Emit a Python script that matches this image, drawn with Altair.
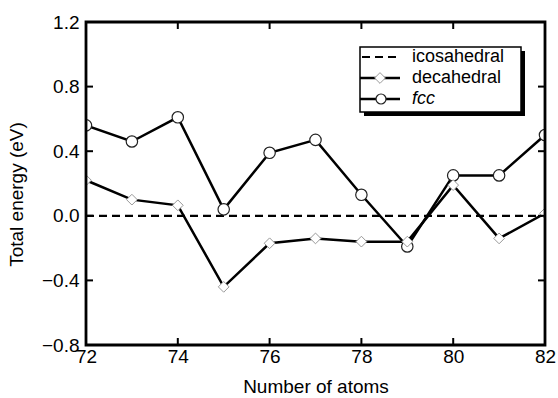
import altair as alt
import pandas as pd

atoms = [72, 73, 74, 75, 76, 77, 78, 79, 80, 81, 82]
icosahedral = [0.0, 0.0, 0.0, 0.0, 0.0, 0.0, 0.0, 0.0, 0.0, 0.0, 0.0]
decahedral = [0.22, 0.10, 0.065, -0.44, -0.17, -0.14, -0.16, -0.16, 0.19, -0.14, 0.015]
fcc = [0.56, 0.46, 0.61, 0.04, 0.39, 0.47, 0.13, -0.19, 0.25, 0.25, 0.50]

x_ticks = [72, 74, 76, 78, 80, 82]
y_ticks = [-0.8, -0.4, 0.0, 0.4, 0.8, 1.2]
x_inner_ticks = [74, 76, 78, 80]
y_inner_ticks = [-0.4, 0.0, 0.4, 0.8]

W, H = 459, 323
FONT = "Liberation Sans"

df = pd.DataFrame({"atoms": atoms, "ico": icosahedral, "dec": decahedral, "fcc": fcc})
xt = pd.DataFrame({"v": x_inner_ticks})
yt = pd.DataFrame({"v": y_inner_ticks})

xs = alt.Scale(domain=[72, 82], nice=False, zero=False)
ys = alt.Scale(domain=[-0.8, 1.2], nice=False, zero=False)

X = alt.X("atoms:Q", scale=xs,
          axis=alt.Axis(values=x_ticks, format="d", title="Number of atoms", tickSize=0,
                        domain=False, grid=False, labelPadding=2, titlePadding=11,
                        labelFlush=False, labelOverlap=False,
                        labelFontSize=19, titleFontSize=19, labelFont=FONT, titleFont=FONT,
                        titleFontWeight="normal", labelColor="black", titleColor="black"))


def Y(field):
    return alt.Y(field, scale=ys,
                 axis=alt.Axis(values=y_ticks, format=".1f", title="Total energy (eV)", tickSize=0,
                               domain=False, grid=False, labelPadding=7, titlePadding=15,
                               labelFlush=False, labelOverlap=False, titleY=172,
                               labelFontSize=19, titleFontSize=19, labelFont=FONT, titleFont=FONT,
                               titleFontWeight="normal", labelColor="black", titleColor="black"))


base = alt.Chart(df)

ico_line = base.mark_line(color="black", strokeWidth=2.2, strokeDash=[8, 5], clip=True).encode(x=X, y=Y("ico:Q"))
dec_line = base.mark_line(color="black", strokeWidth=2.5, clip=True).encode(x=X, y=Y("dec:Q"))
fcc_line = base.mark_line(color="black", strokeWidth=2.5, clip=True).encode(x=X, y=Y("fcc:Q"))
fcc_pts = base.mark_point(shape="circle", size=130, filled=True, fill="white", stroke="#222",
                          strokeWidth=1.2, opacity=1, clip=True).encode(x=X, y=Y("fcc:Q"))
dec_pts = base.mark_point(shape="diamond", size=115, filled=True, fill="white", stroke="#999",
                          strokeWidth=1, opacity=1, clip=True).encode(x=X, y=Y("dec:Q"))

tick_style = dict(color="black", strokeWidth=2)
left_t = alt.Chart(yt).mark_rule(**tick_style).encode(y=alt.Y("v:Q", scale=ys), x=alt.value(0), x2=alt.value(7))
right_t = alt.Chart(yt).mark_rule(**tick_style).encode(y=alt.Y("v:Q", scale=ys), x=alt.value(W), x2=alt.value(W - 7))
top_t = alt.Chart(xt).mark_rule(**tick_style).encode(x=alt.X("v:Q", scale=xs), y=alt.value(0), y2=alt.value(7))
bot_t = alt.Chart(xt).mark_rule(**tick_style).encode(x=alt.X("v:Q", scale=xs), y=alt.value(H), y2=alt.value(H - 7))

one = pd.DataFrame({"a": [0]})
lc = alt.Chart(one)
frame = lc.mark_rect(fill=None, stroke="black", strokeWidth=2.8).encode(
    x=alt.value(0), x2=alt.value(W), y=alt.value(0), y2=alt.value(H))

# legend (drawn by hand, with shadow)
leg_labels = ["icosahedral", "decahedral", "fcc"]
lx0, lx1, ly0, ly1 = 274, 435, 25, 90
shadow = lc.mark_rect(color="black").encode(x=alt.value(lx0 + 4), x2=alt.value(lx1 + 4),
                                           y=alt.value(ly0 + 4), y2=alt.value(ly1 + 4))
box = lc.mark_rect(fill="white", stroke="black", strokeWidth=1.5).encode(
    x=alt.value(lx0), x2=alt.value(lx1), y=alt.value(ly0), y2=alt.value(ly1))
rows = [35, 56, 77]
legend_layers = [shadow, box]
legend_layers.append(lc.mark_rule(color="black", strokeWidth=2.2, strokeDash=[8, 5]).encode(
    x=alt.value(lx0 + 2), x2=alt.value(314), y=alt.value(rows[0])))
legend_layers.append(lc.mark_rule(color="black", strokeWidth=2.5).encode(
    x=alt.value(lx0), x2=alt.value(314), y=alt.value(rows[1])))
legend_layers.append(lc.mark_point(shape="diamond", size=115, filled=True, fill="white", stroke="#999",
                                   strokeWidth=1, opacity=1).encode(x=alt.value(294), y=alt.value(rows[1])))
legend_layers.append(lc.mark_rule(color="black", strokeWidth=2.5).encode(
    x=alt.value(lx0), x2=alt.value(314), y=alt.value(rows[2])))
legend_layers.append(lc.mark_point(shape="circle", size=100, filled=True, fill="white", stroke="#222",
                                   strokeWidth=1.2, opacity=1).encode(x=alt.value(295), y=alt.value(rows[2])))
for i, lab in enumerate(leg_labels):
    legend_layers.append(lc.mark_text(text=lab, align="left", baseline="middle", fontSize=18, font=FONT,
                                      fontStyle="italic" if lab == "fcc" else "normal", color="black").encode(
        x=alt.value(326), y=alt.value(rows[i])))

chart = alt.layer(
    ico_line, dec_line, fcc_line, fcc_pts, dec_pts,
    left_t, right_t, top_t, bot_t, frame,
    *legend_layers
).properties(
    width=W, height=H,
    autosize=alt.AutoSizeParams(type="none"),
    padding={"left": 86, "top": 22, "right": 13, "bottom": 53},
    background="white",
).configure_view(stroke=None)

chart.save("out.html", embed_options={"renderer": "svg", "actions": False})
